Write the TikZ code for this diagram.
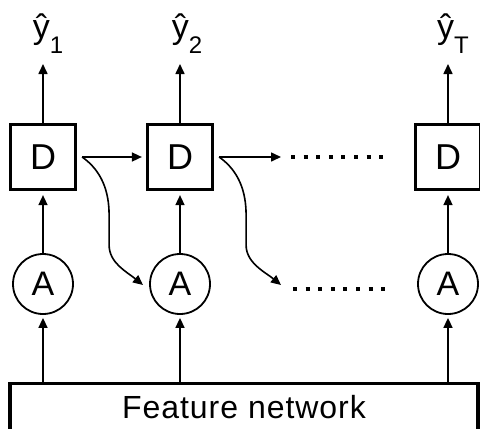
\documentclass[tikz,border=0pt]{standalone}
\usepackage{fontspec}
\setmainfont{Liberation Sans}
\usetikzlibrary{arrows.meta,positioning}
\tikzset{
    decoderbox/.style={
        draw,
        line width=3.2pt,
        minimum size=65pt,
        inner sep=0pt,
        font=\fontsize{36}{36}\selectfont
    },
    attnode/.style={
        draw,
        circle,
        line width=1.8pt,
        minimum size=60pt,
        inner sep=0pt,
        font=\fontsize{34}{34}\selectfont
    },
    featbox/.style={
        draw,
        line width=3.2pt,
        anchor=north,
        minimum width=468pt,
        inner ysep=12pt,
        text height=23pt,
        text depth=45pt,
        font=\fontsize{32}{32}\selectfont\addfontfeature{LetterSpace=3}
    },
    outlabel/.style={
        anchor=base,
        inner sep=0pt,
        font=\fontsize{34}{34}\selectfont
    },
    % main arrow, black triangle head
    blackarrow/.style={
        line width=1.6pt,
        -{Triangle[length=10pt, width=9pt]}
    },
    dotrow/.style={
        line width=4pt,
        dash pattern=on 4pt off 8.6pt
    }
}

\begin{document}
\begin{tikzpicture}[x=1pt,y=-1pt]
    \useasboundingbox (0,0) rectangle (480,429);
    \clip (0,0) rectangle (480,429);

    \path
     (43,64) coordinate (t1)
     (180,64) coordinate (t2)
     (448,64) coordinate (tT)
     (281,157) coordinate (r1s)
     (291,157) coordinate (r1a)
     (383,157) coordinate (r1b)
     (143,285) coordinate (c1)
     (281,285) coordinate (c2)
     (293,289) coordinate (r2a)
     (385,289) coordinate (r2b);

    % decoder boxes and attention circles
    \node[decoderbox] (D1) at (43,157) {D};
    \node[decoderbox] (D2) at (180,157) {D};
    \node[decoderbox] (DT) at (448,157) {D};
    \node[attnode] (A1) at (43,284) {A};
    \node[attnode] (A2) at (180,284) {A};
    \node[attnode] (AT) at (448,284) {A};
    \node[featbox] (feat) at (244,382) {Feature network};

    % outputs
    \node[outlabel] (y1) at (48,38) {ŷ\raisebox{-15pt}{\fontsize{24}{24}\selectfont 1}};
    \node[outlabel] (y2) at (187,38) {ŷ\raisebox{-15pt}{\fontsize{24}{24}\selectfont 2}};
    \node[outlabel] (yT) at (453,38) {ŷ\raisebox{-15pt}{\fontsize{24}{24}\selectfont T}};

    % vertical arrows
    \foreach \c in {1,2,T}{
        \draw[blackarrow, shorten >=3pt] (feat.north -| A\c) -- (A\c);
        \draw[blackarrow, shorten >=4pt] (A\c) -- (D\c);
        \draw[blackarrow] (D\c.north) -- (t\c);
    }

    % recurrent arrows
    \draw[blackarrow, shorten <=5pt, shorten >=4pt] (D1) -- (D2);
    \draw[blackarrow] ([xshift=5pt]D2.east) -- (r1s);
    \draw[dotrow] (r1a) -- (r1b);

    % curved arrows down to next attention
    \draw[blackarrow] ([xshift=5pt]D1.east) .. controls +(20,14) and +(0,-23) .. ++(27,58)
        -- ++(0,30) .. controls +(0,18) and +(-16,-13) .. (c1);
    \draw[blackarrow] ([xshift=5pt]D2.east) .. controls +(20,14) and +(0,-23) .. ++(27,58)
        -- ++(0,30) .. controls +(0,18) and +(-16,-13) .. (c2);
    \draw[dotrow] (r2a) -- (r2b);

\end{tikzpicture}
\end{document}
